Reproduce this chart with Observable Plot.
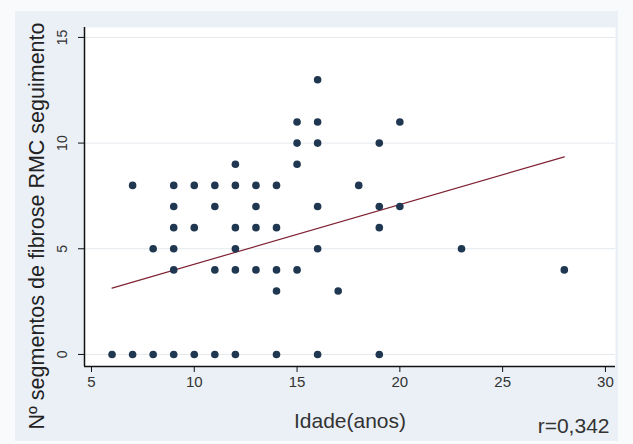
<!DOCTYPE html>
<html><head><meta charset="utf-8">
<script src="https://cdn.jsdelivr.net/npm/d3@7"></script>
<script src="https://cdn.jsdelivr.net/npm/@observablehq/plot@0.6"></script>
<style>
html,body{margin:0;padding:0;background:#f8fafc;}
#wrap{position:relative;width:633px;height:444px;overflow:hidden;}
#panel{position:absolute;left:15px;top:11px;width:603px;height:430px;background:#eaf0f6;}
#chart{position:absolute;left:0;top:0;}
</style></head><body>
<div id="wrap"><div id="panel"></div><div id="chart"></div></div>
<script>
// Scatter data: age (years) and number of fibrosis segments
const ageX = [6,7,8,9,10,11,12,14,16,19, 14,17, 9,11,12,13,14,15,28, 8,9,12,16,23, 9,10,12,13,14,19, 9,11,13,16,19,20, 7,9,10,11,12,13,14,18, 12,15, 15,16,19, 15,16,20, 16];
const segY = [0,0,0,0,0,0,0,0,0,0, 3,3, 4,4,4,4,4,4,4, 5,5,5,5,5, 6,6,6,6,6,6, 7,7,7,7,7,7, 8,8,8,8,8,8,8,8, 9,9, 10,10,10, 11,11,11, 13];
// Fitted line endpoints
const fitX = [6, 28];
const fitY = [3.14, 9.35];
const xTicks = [5, 10, 15, 20, 25, 30];
const yTicks = [0, 5, 10, 15];
const xDomain = [4.66, 30.49];
const yDomain = [-0.57, 15.47];
const xTitle = "Idade(anos)";
const yTitle = "Nº segmentos de fibrose RMC seguimento";
const note = "r=0,342";

const points = ageX.map((x, i) => ({x, y: segY[i]}));
const fit = fitX.map((x, i) => ({x, y: fitY[i]}));

const font = "Liberation Sans, Arial, sans-serif";
const chart = Plot.plot({
  width: 633, height: 444,
  marginLeft: 84, marginRight: 18, marginTop: 27, marginBottom: 78,
  style: {fontFamily: font, background: "transparent", color: "#222", overflow: "visible"},
  x: {domain: xDomain, axis: null},
  y: {domain: yDomain, axis: null},
  marks: [
    Plot.frame({fill: "white", stroke: null}),
    Plot.gridY(yTicks, {stroke: "#e4e8ec", strokeOpacity: 1, strokeWidth: 1}),
    Plot.ruleX([xDomain[0]], {stroke: "#111", strokeWidth: 1.5}),
    Plot.ruleY([yDomain[0]], {stroke: "#111", strokeWidth: 1.5}),
    Plot.axisX(xTicks, {tickSize: 6, tickPadding: 4, fontSize: 15, label: null, stroke: "#111", color: "#333"}),
    Plot.axisY(yTicks, {tickSize: 6, tickFormat: () => "", label: null, stroke: "#111"}),
    Plot.text(yTicks, {y: d => d, text: d => String(d), frameAnchor: "left", textAnchor: "middle", lineAnchor: "middle", dx: -22, rotate: -90, fontSize: 14, fill: "#333"}),
    Plot.line(fit, {x: "x", y: "y", stroke: "#7f2232", strokeWidth: 1.2}),
    Plot.dot(points, {x: "x", y: "y", r: 3.8, fill: "#1f3750", stroke: "none"}),
    Plot.text([xTitle], {text: d => d, frameAnchor: "bottom", lineAnchor: "middle", dy: 55, fontSize: 21, fill: "#333"}),
    Plot.text([note], {text: d => d, frameAnchor: "bottom-right", textAnchor: "end", lineAnchor: "middle", dx: -6, dy: 60, fontSize: 21, fill: "#333"}),
    Plot.text([yTitle], {text: d => d, frameAnchor: "left", textAnchor: "middle", lineAnchor: "middle", dx: -47, dy: 29, rotate: -90, fontSize: 21.5, fill: "#222"})
  ]
});
document.getElementById("chart").appendChild(chart);
</script>
</body></html>
